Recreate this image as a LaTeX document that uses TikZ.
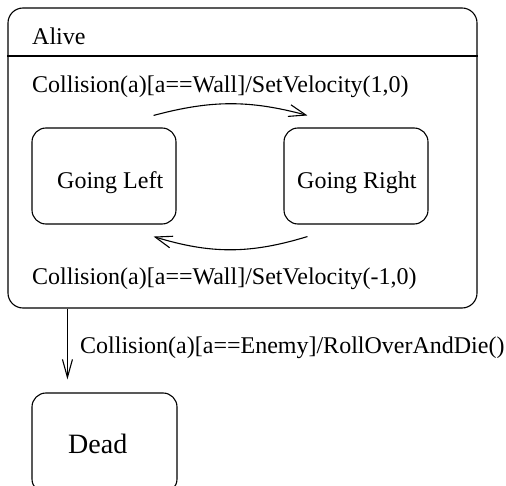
\documentclass[tikz,border=0pt]{standalone}
\usepackage{fontspec}
\setmainfont{Liberation Serif}
\usetikzlibrary{arrows.meta}
\begin{document}
\begin{tikzpicture}[x=1pt,y=-1pt,
  state/.style={draw, rounded corners=14pt, line width=1.1pt, inner sep=0pt},
  txt/.style={anchor=base west, inner sep=0pt, font=\fontsize{24}{28}\selectfont},
  bigtxt/.style={anchor=base west, inner sep=0pt, font=\fontsize{28}{32}\selectfont},
  trans/.style={line width=1.1pt, -{Straight Barb[length=17pt,width=12pt,line width=1.1pt]}}
]
\useasboundingbox (0,0) rectangle (506,486);
\fill[white] (0,0) rectangle (506,486);
\clip (0,0) rectangle (506,486);

% composite state with its header compartment
\node[state, rounded corners=15pt, minimum width=469pt, minimum height=300pt] (alive) at (242.5,158) {};
\coordinate (hdr) at (0,56);
\draw[line width=1.1pt] (alive.west |- hdr) -- (alive.east |- hdr);
\node[txt] (alivename) at (32,45) {Alive};

% inner states
\node[state, minimum width=144pt, minimum height=96pt] (left) at (104,176) {};
\node[state, minimum width=144pt, minimum height=96pt] (right) at (356,176) {};
\node[txt] (leftname) at (57,189) {Going Left};
\node[txt] (rightname) at (297,189) {Going Right};

% final state
\node[state, minimum width=145pt, minimum height=100pt] (dead) at (104.5,443) {};
\node[bigtxt] (deadname) at (68,453) {Dead};

% wall collisions between the inner states
\coordinate (t1) at ([xshift=-23pt,yshift=12pt]left.north east);
\coordinate (t2) at ([xshift=24pt,yshift=12pt]right.north west);
\coordinate (b1) at ([xshift=24pt,yshift=-12pt]right.south west);
\coordinate (b2) at ([xshift=-23pt,yshift=-12pt]left.south east);
\draw[trans] (t1) to[bend left=15] (t2);
\draw[trans] (b1) to[bend left=17] (b2);
\node[txt] (toplabel) at (32,93) {Collision(a)[a==Wall]/SetVelocity(1,0)};
\node[txt] (botlabel) at (32,285) {Collision(a)[a==Wall]/SetVelocity(-1,0)};

% enemy collision leaves the composite state
\coordinate (v0) at (alive.south -| dead.west);
\coordinate (v1) at ([xshift=36pt]v0);
\coordinate (v2) at ([xshift=36pt,yshift=13pt]dead.north west);
\draw[line width=1.1pt, -{Straight Barb[length=18pt,width=10pt,line width=1.1pt]}] (v1) -- (v2);
\node[txt] (enemylabel) at (80,353) {Collision(a)[a==Enemy]/RollOverAndDie()};
\end{tikzpicture}
\end{document}
